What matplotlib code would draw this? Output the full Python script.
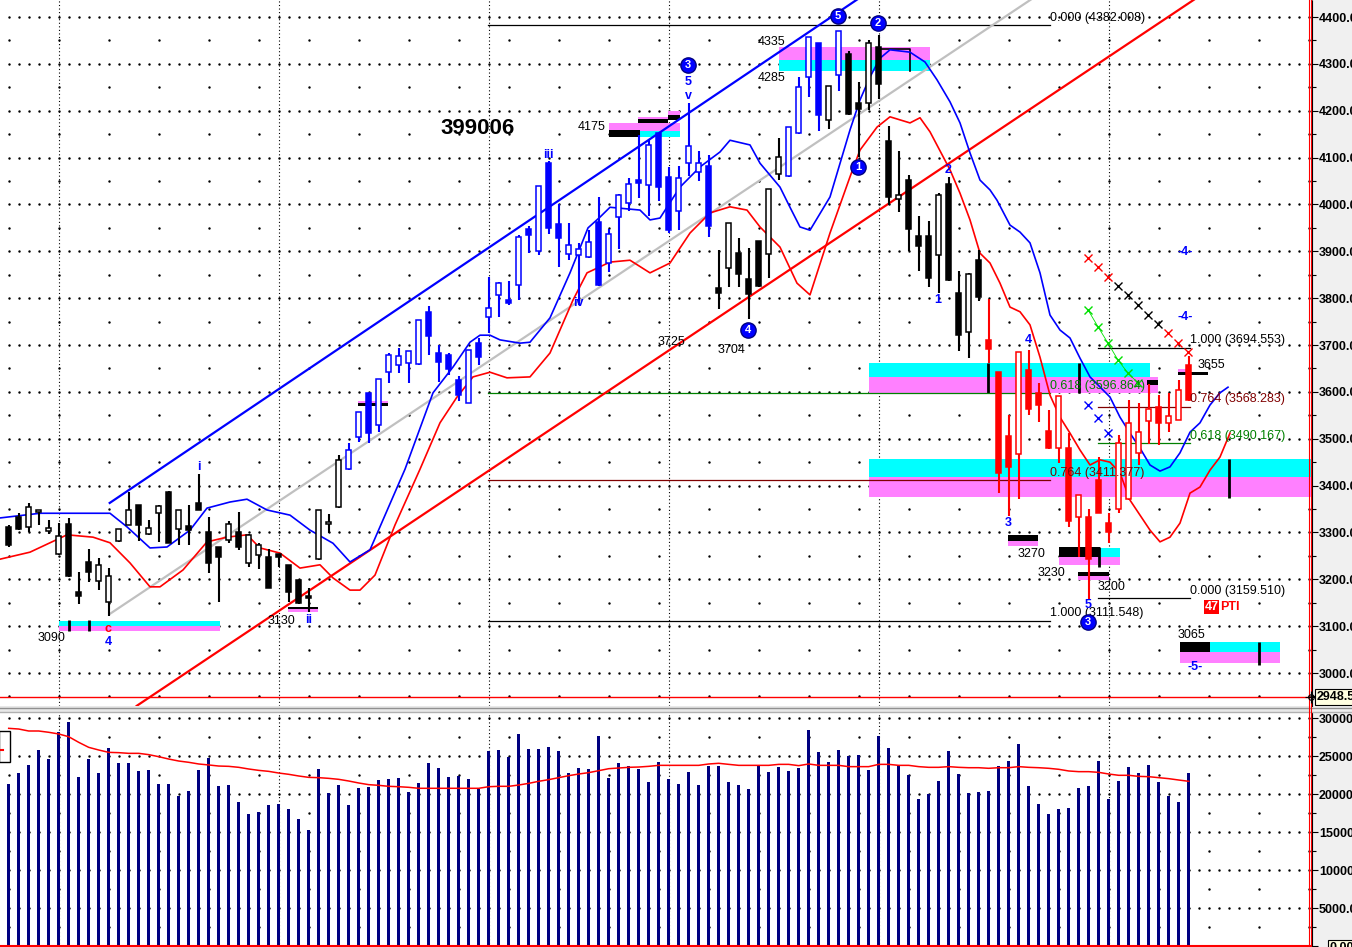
import matplotlib
matplotlib.use("Agg")
import matplotlib.pyplot as plt
from matplotlib.patches import Rectangle

plt.rcParams['font.family'] = ['Liberation Sans', 'DejaVu Sans']

# ---- daily bars (bar number = position in list) ----
opens = [3312, 3332, 3312, 3344, 3303, 3255, 3318, 3172, 3236, 3196,
         3152, 3282, 3317, 3359, 3297, 3341, 3387, 3307, 3314, 3362,
         3302, 3268, 3285, 3300, 3234, 3253, 3248, 3255, 3230, 3199,
         3163, 3243, 3318, 3355, 3435, 3504, 3598, 3529, 3643, 3657,
         3661, 3659, 3770, 3682, 3679, 3625, 3577, 3705, 3760, 3807,
         3797, 3828, 3947, 3901, 4089, 3958, 3894, 3892, 3887, 3963,
         3874, 3974, 4004, 4052, 4042, 4152, 4058, 3985, 4089, 4070,
         4082, 3821, 3864, 3897, 3840, 3921, 3894, 4066, 4061, 4152,
         4271, 4345, 4180, 4276, 4321, 4216, 4216, 4337, 4135, 4011,
         4052, 3933, 3933, 3892, 4044, 3810, 3727, 3881, 3711, 3642,
         3506, 3467, 3647, 3598, 3517, 3480, 3481, 3332, 3332, 3411,
         3321, 3350, 3371, 3470, 3537, 3567, 3534, 3541, 3657]
highs = [3316, 3342, 3362, 3349, 3327, 3320, 3330, 3215, 3264, 3246,
         3225, 3307, 3387, 3359, 3327, 3359, 3388, 3348, 3359, 3424,
         3334, 3268, 3324, 3344, 3297, 3277, 3264, 3255, 3230, 3199,
         3181, 3348, 3339, 3465, 3490, 3558, 3598, 3627, 3684, 3694,
         3688, 3753, 3783, 3700, 3684, 3634, 3689, 3714, 3846, 3835,
         3837, 3935, 3954, 4039, 4092, 4001, 3961, 3917, 3945, 4015,
         3947, 4022, 4056, 4148, 4138, 4153, 4079, 4082, 4216, 4113,
         4106, 3903, 3961, 3928, 3908, 3921, 4033, 4141, 4166, 4271,
         4358, 4345, 4253, 4371, 4328, 4262, 4351, 4362, 4167, 4115,
         4063, 3975, 3965, 4024, 4059, 3857, 3854, 3903, 3798, 3642,
         3551, 3686, 3689, 3618, 3561, 3591, 3512, 3380, 3351, 3462,
         3341, 3508, 3583, 3577, 3617, 3593, 3598, 3625, 3677]
lows = [3270, 3305, 3300, 3316, 3297, 3252, 3204, 3147, 3194, 3177,
        3122, 3280, 3316, 3282, 3295, 3280, 3277, 3273, 3273, 3348,
        3213, 3152, 3278, 3263, 3227, 3223, 3181, 3227, 3152, 3147,
        3131, 3241, 3298, 3352, 3433, 3494, 3490, 3515, 3618, 3641,
        3618, 3657, 3679, 3622, 3636, 3581, 3576, 3657, 3725, 3760,
        3785, 3796, 3896, 3892, 3937, 3867, 3881, 3785, 3885, 3826,
        3855, 3904, 3985, 4013, 3975, 4008, 3940, 3945, 4061, 4049,
        3931, 3776, 3823, 3823, 3755, 3823, 3842, 4052, 4059, 4150,
        4229, 4157, 4160, 4243, 4191, 4102, 4202, 4226, 3999, 3983,
        3901, 3857, 3823, 3810, 3837, 3688, 3672, 3793, 3662, 3385,
        3335, 3371, 3551, 3536, 3478, 3449, 3311, 3248, 3157, 3341,
        3278, 3341, 3369, 3444, 3489, 3487, 3515, 3540, 3581]
closes = [3273, 3307, 3355, 3348, 3309, 3292, 3207, 3164, 3215, 3230,
          3208, 3307, 3349, 3316, 3310, 3357, 3278, 3348, 3305, 3349,
          3234, 3248, 3318, 3268, 3295, 3273, 3182, 3248, 3172, 3149,
          3161, 3348, 3323, 3455, 3477, 3558, 3513, 3627, 3679, 3677,
          3688, 3753, 3719, 3664, 3648, 3593, 3689, 3675, 3778, 3833,
          3789, 3930, 3935, 4039, 3949, 3928, 3913, 3904, 3920, 3828,
          3938, 4020, 4043, 4046, 4127, 4037, 3946, 4056, 4125, 4089,
          3954, 3810, 3961, 3852, 3809, 3826, 4033, 4102, 4166, 4251,
          4358, 4191, 4253, 4371, 4193, 4203, 4344, 4258, 4015, 4020,
          3947, 3911, 3844, 4020, 3839, 3721, 3851, 3803, 3691, 3426,
          3440, 3686, 3563, 3572, 3480, 3591, 3325, 3380, 3243, 3342,
          3300, 3490, 3534, 3515, 3563, 3534, 3549, 3604, 3583]
# k = black, b = blue, r = red candles
candle_color = list("k" * 34 + "b" * 37 + "k" * 7 + "b" * 4 + "k" + "b"
                    + "k" * 14 + "r" * 21)

volume = [21316, 22763, 23816, 25790, 24605, 28158, 29474, 22237, 24605, 22763,
          26053, 24079, 24079, 23026, 23158, 21316, 21316, 19737, 20395, 23158,
          24737, 21053, 21184, 18947, 17368, 17632, 18553, 18684, 18026, 16711,
          15263, 23289, 20132, 21184, 18553, 20789, 20921, 21842, 21974, 22105,
          20263, 21447, 24079, 23421, 22237, 22368, 21974, 20658, 25658, 25790,
          24868, 27895, 25921, 25921, 26184, 25658, 22763, 23421, 23289, 27632,
          22105, 24079, 23684, 23289, 21579, 24211, 21974, 21316, 22895, 21184,
          23684, 23684, 21579, 21184, 20658, 23684, 22895, 23553, 23026, 23421,
          28421, 25526, 24211, 25790, 25000, 25132, 23158, 27632, 26053, 23684,
          22500, 19342, 20000, 21711, 25658, 22632, 20132, 20263, 20395, 23684,
          24342, 26579, 21053, 18684, 17368, 18026, 18158, 20789, 21053, 24342,
          19342, 21711, 23553, 22763, 23816, 21579, 19737, 18947, 22763]
volume_ma = [28640, 28550, 28290, 28290, 28120, 27900, 27540, 26800, 26140, 25790,
             25480, 25440, 25350, 25350, 25180, 24910, 24600, 24340, 24170, 23950,
             23820, 23680, 23640, 23510, 23290, 23110, 22980, 22760, 22590, 22370,
             22190, 22150, 22060, 21930, 21710, 21450, 21230, 21140, 21010, 20960,
             20880, 20750, 20750, 20750, 20750, 20750, 20750, 20750, 20960, 21010,
             21010, 21180, 21400, 21670, 21890, 22150, 22410, 22630, 22810, 23070,
             23330, 23420, 23510, 23550, 23640, 23770, 23770, 23770, 23770, 23770,
             23950, 24040, 23900, 23770, 23770, 23770, 23770, 23900, 23900, 23730,
             23950, 23770, 23770, 23770, 23600, 23600, 23600, 23900, 23900, 23770,
             23770, 23600, 23510, 23510, 23600, 23510, 23460, 23460, 23380, 23460,
             23460, 23600, 23510, 23460, 23380, 23250, 23030, 22940, 22940, 22850,
             22630, 22460, 22460, 22320, 22280, 22150, 22020, 21840, 21670]

# moving averages (shifted forward, so they run past the last bar)
blue_ma_bar = [-0.87, 3.13, 10.13, 11.83, 14.13, 15.83, 18.13, 19.83, 22.13, 23.83,
               25.83, 28.13, 30.13, 32.43, 34.13, 36.13, 39.63, 42.43, 44.43, 46.13,
               47.13, 48.13, 49.13, 51.13, 52.13, 54.13, 56.13, 57.93, 59.13, 60.13,
               63.13, 64.13, 65.13, 67.13, 69.13, 71.13, 72.13, 74.13, 75.13, 77.13,
               78.13, 79.13, 80.13, 82.13, 84.13, 85.13, 86.13, 87.13, 88.13, 90.13,
               91.63, 92.83, 94.13, 95.13, 96.13, 97.13, 98.13, 98.83, 100.13, 101.13,
               102.13, 103.13, 104.13, 105.13, 106.13, 107.13, 108.13, 110.13, 111.13, 112.13,
               113.13, 114.13, 115.13, 116.13, 117.13, 118.13, 119.13, 120.13, 121.13, 121.93]
blue_ma = [3331, 3341, 3341, 3312, 3267, 3269, 3305, 3352, 3365, 3371,
           3348, 3337, 3305, 3277, 3237, 3263, 3435, 3598, 3653, 3706,
           3721, 3721, 3711, 3704, 3706, 3758, 3854, 3950, 3973, 3994,
           3988, 3967, 3971, 4037, 4080, 4112, 4137, 4127, 4088, 4037,
           3994, 3952, 3945, 4016, 4159, 4223, 4272, 4312, 4330, 4325,
           4304, 4266, 4219, 4174, 4110, 4052, 4031, 4009, 3956, 3941,
           3918, 3854, 3764, 3732, 3715, 3672, 3632, 3589, 3546, 3512,
           3480, 3444, 3431, 3440, 3470, 3514, 3534, 3572, 3598, 3610]
red_ma_bar = [-0.87, 2.13, 4.13, 5.83, 8.43, 10.13, 12.13, 14.13, 15.13, 17.43,
              19.83, 21.83, 23.83, 25.13, 27.13, 29.13, 31.13, 32.43, 34.13, 35.13,
              36.63, 38.63, 41.13, 43.13, 44.83, 46.43, 48.13, 49.83, 52.13, 54.13,
              56.43, 57.83, 59.13, 60.13, 62.13, 64.13, 66.13, 68.13, 70.13, 72.13,
              73.83, 75.13, 77.13, 78.83, 80.13, 82.13, 84.13, 85.13, 86.83, 88.13,
              90.13, 91.13, 92.13, 94.13, 95.13, 96.13, 97.13, 98.13, 99.13, 100.13,
              101.13, 102.13, 103.13, 104.13, 105.13, 106.13, 107.13, 108.13, 109.13, 110.13,
              111.13, 112.13, 113.13, 114.13, 115.13, 116.13, 117.13, 118.13, 119.13, 120.13,
              121.13, 122.13]
red_ma = [3243, 3258, 3278, 3295, 3290, 3278, 3235, 3184, 3184, 3220,
          3280, 3290, 3295, 3267, 3256, 3224, 3231, 3203, 3177, 3177,
          3209, 3316, 3435, 3534, 3589, 3632, 3642, 3630, 3632, 3683,
          3796, 3854, 3867, 3877, 3881, 3854, 3875, 3939, 3982, 3995,
          3988, 3952, 3909, 3832, 3807, 3939, 4059, 4116, 4165, 4187,
          4174, 4185, 4155, 4074, 4024, 3967, 3896, 3875, 3832, 3781,
          3771, 3743, 3674, 3593, 3546, 3512, 3476, 3444, 3455, 3450,
          3427, 3369, 3337, 3305, 3280, 3290, 3320, 3384, 3397, 3433,
          3461, 3512]

# trend lines: (bar, price) end points
trend_blue = ([10.1, 85.1], [3363, 4441])
trend_gray = ([10.1, 102.2], [3126, 4437])
trend_red = ([12.8, 118.6], [2930, 4438])

# fibonacci levels
fib_left = [(4382.008, "0.000 (4382.008)", "#000000"),
            (3596.864, "0.618 (3596.864)", "#008000"),
            (3411.377, "0.764 (3411.377)", "#800000"),
            (3111.548, "1.000 (3111.548)", "#000000")]
fib_right = [(3694.553, "1.000 (3694.553)", "#000000"),
             (3568.283, "0.764 (3568.283)", "#800000"),
             (3490.167, "0.618 (3490.167)", "#008000"),
             (3159.510, "0.000 (3159.510)", "#000000")]

CY, MG, BK = "#00ffff", "#ff80ff", "#000000"
# target zones: bar from, bar to, price low, price high, colour
zones = [(5.03, 21.13, 3100.4, 3111.1, CY), (5.03, 21.13, 3089.7, 3100.4, MG),
         (27.93, 30.93, 3136.7, 3141.0, BK), (27.93, 30.93, 3130.3, 3136.7, MG),
         (34.93, 37.93, 3576.3, 3580.5, MG), (34.93, 37.93, 3569.9, 3576.3, BK),
         (60.03, 67.13, 4156.7, 4173.2, MG), (60.03, 63.13, 4144.6, 4158.9, BK),
         (63.13, 67.13, 4144.6, 4156.7, CY),
         (62.93, 65.93, 4181.7, 4186.6, MG), (62.93, 65.93, 4174.4, 4181.7, BK),
         (65.93, 67.13, 4190.9, 4199.4, MG), (65.93, 67.13, 4180.2, 4190.9, BK),
         (77.03, 92.13, 4308.2, 4336.0, MG), (77.03, 92.13, 4285.4, 4308.2, CY),
         (86.03, 114.13, 3631.8, 3661.6, CY), (86.03, 114.93, 3597.6, 3631.8, MG),
         (113.83, 114.93, 3614.7, 3625.4, BK),
         (86.03, 131.0, 3418.4, 3456.8, CY), (86.03, 131.0, 3375.7, 3418.4, MG),
         (99.93, 102.93, 3281.8, 3294.6, BK), (99.93, 102.93, 3271.1, 3281.8, MG),
         (105.03, 111.13, 3230.6, 3247.6, MG), (107.83, 111.13, 3247.6, 3266.8, CY),
         (105.03, 109.13, 3247.6, 3269.0, BK),
         (106.93, 110.03, 3207.1, 3215.6, BK), (106.93, 110.03, 3198.6, 3207.1, MG),
         (116.93, 119.93, 3636.0, 3642.4, BK), (116.93, 118.13, 3642.4, 3648.8, MG),
         (117.13, 120.13, 3044.9, 3066.3, BK), (120.13, 127.13, 3044.9, 3066.3, CY),
         (117.13, 127.13, 3021.4, 3044.9, MG)]
zone_ticks = [(6.03, 3089.7, 3113.2), (8.03, 3089.7, 3113.2),
              (97.93, 3597.6, 3661.6), (107.03, 3597.6, 3661.6),
              (122.03, 3373.6, 3456.8), (109.03, 3226.3, 3269.0),
              (125.03, 3017.2, 3066.3)]

price_labels = [("4335", 76.3, 4347), ("4285", 76.3, 4270), ("4175", 58.3, 4165),
                ("3725", 66.3, 3706), ("3704", 72.3, 3689), ("3090", 4.3, 3075),
                ("3130", 27.3, 3111), ("3270", 102.3, 3254), ("3230", 104.3, 3213),
                ("3200", 110.3, 3184), ("3655", 120.3, 3657), ("3065", 118.3, 3081)]
wave_circles = [("5", 82.93, 4402), ("2", 86.93, 4387), ("3", 67.93, 4298),
                ("1", 84.93, 4080), ("4", 73.93, 3732), ("3", 107.93, 3109)]
wave_labels = [("5", 67.93, 4261, "#0000ff"), ("v", 67.93, 4232, "#0000ff"),
               ("iii", 53.93, 4106, "#0000ff"), ("iv", 56.93, 3790, "#0000ff"),
               ("i", 19.03, 3440, "#0000ff"), ("ii", 30.03, 3113, "#0000ff"),
               ("4", 9.93, 3066, "#0000ff"), ("c", 9.93, 3094, "#ff0000"),
               ("1", 92.93, 3796, "#0000ff"), ("2", 93.93, 4074, "#0000ff"),
               ("3", 99.93, 3320, "#0000ff"), ("4", 101.93, 3711, "#0000ff"),
               ("5", 107.93, 3145, "#0000ff"), ("-4-", 117.63, 3899, "#0000ff"),
               ("-4-", 117.63, 3760, "#0000ff"), ("-5-", 118.63, 3013, "#0000ff")]

cross_bar = [107.93, 108.93, 109.93, 110.93, 111.93, 112.93, 113.93, 114.93, 115.93, 116.93, 117.93]
cross_price = [3886, 3866, 3846, 3826, 3806, 3785, 3765, 3745, 3725, 3705, 3685]
cross_color = list("rrrkkkkkrrr")
green_cross_bar = [107.93, 108.93, 109.93, 110.93, 111.93, 112.93]
green_cross_price = [3775, 3739, 3704, 3668, 3640, 3619]
blue_cross_bar = [107.93, 108.93, 109.93]
blue_cross_price = [3572, 3544, 3512]

month_lines = [5, 27, 48, 66, 87, 110]
last_low_line = 2948.5

W, H = 1352, 947
COL = {"k": "#000000", "b": "#0000ff", "r": "#ff0000"}

fig = plt.figure(figsize=(W / 100, H / 100), dpi=100, facecolor="#f0f0f0")
xlim = (-0.87, -0.87 + 131.2)
ax = fig.add_axes([0, 241 / H, 1312 / W, 706 / H])
axv = fig.add_axes([0, 0, 1312 / W, 234 / H])

for a in (ax, axv):
    a.set_facecolor("white")
    a.set_xlim(*xlim)
    a.set_xticks([])
    for s in ("top", "left", "bottom"):
        a.spines[s].set_visible(False)
    a.spines["right"].set_linestyle((0, (1, 1)))
    a.spines["right"].set_linewidth(0.8)
    a.yaxis.tick_right()
    a.tick_params(axis="y", which="major", direction="out", length=4, width=0.8,
                  pad=1, labelsize=9)
    a.tick_params(axis="y", which="minor", direction="out", length=3, width=0.8)

ax.set_ylim(2929.7, 4436.3)
ax.set_yticks(range(3000, 4401, 100))
ax.set_yticklabels([f"{v:.1f}" for v in range(3000, 4401, 100)], fontweight="bold")
ax.set_yticks(range(2950, 4436, 50), minor=True)

axv.set_ylim(-131, 30658)
axv.set_yticks(range(0, 30001, 5000))
axv.set_yticklabels([""] + [f"{v:.1f}" for v in range(5000, 30001, 5000)],
                    fontweight="bold")
axv.set_yticks(range(0, 30660, 2500), minor=True)

# dotted grid
dot_bars = list(range(0, 131))
for lvl in range(3000, 4401, 100):
    ax.plot(dot_bars, [lvl] * len(dot_bars), ls="none", marker="s", ms=0.7,
            color="black", zorder=0.5)
for lvl in range(2950, 4401, 100):
    ax.plot(dot_bars[::5], [lvl] * len(dot_bars[::5]), ls="none", marker="s", ms=0.7,
            color="black", zorder=0.5)
for lvl in range(5000, 30001, 5000):
    axv.plot(dot_bars, [lvl] * len(dot_bars), ls="none", marker="s", ms=0.7,
             color="black", zorder=0.5)
for lvl in range(2500, 30001, 5000):
    axv.plot(dot_bars[::5], [lvl] * len(dot_bars[::5]), ls="none", marker="s", ms=0.7,
             color="black", zorder=0.5)
for m in month_lines:
    for a in (ax, axv):
        a.axvline(m, color="black", lw=0.8, ls=(0, (1, 2.2)), zorder=0.6)

# zones
for b0, b1, p0, p1, c in zones:
    ax.add_patch(Rectangle((b0, p0), b1 - b0, p1 - p0, facecolor=c, edgecolor="none",
                           zorder=1))
for b, p0, p1 in zone_ticks:
    ax.plot([b, b], [p0, p1], color="black", lw=2, zorder=1.2, solid_capstyle="butt")
ax.plot([87.13, 90.13, 90.13], [4331.7, 4331.7, 4285.4], color="black", lw=1.2, zorder=1.2)

# fibonacci lines
for lvl, txt, c in fib_left:
    ax.plot([47.93, 104.13], [lvl, lvl], color=c, lw=0.9, zorder=1.5)
    ax.text(104.13, lvl + 3, txt, color=c, fontsize=9, ha="left", va="bottom", zorder=6)
for lvl, txt, c in fib_right:
    ax.plot([108.93, 118.13], [lvl, lvl], color=c, lw=0.9, zorder=1.5)
    ax.text(118.13, lvl + 3, txt, color=c, fontsize=9, ha="left", va="bottom", zorder=6)

# trend lines
ax.plot(*trend_gray, color="#c0c0c0", lw=1.6, zorder=1.8)
ax.plot(*trend_blue, color="#0000ff", lw=1.6, zorder=1.8)
ax.plot(*trend_red, color="#ff0000", lw=1.6, zorder=1.8)

# moving averages
ax.plot(blue_ma_bar, blue_ma, color="#0000ff", lw=1.2, zorder=2.5)
ax.plot(red_ma_bar, red_ma, color="#ff0000", lw=1.2, zorder=2.5)

# candles
bars = list(range(len(opens)))
cols = [COL[c] for c in candle_color]
ax.vlines(bars, lows, highs, colors=cols, lw=1.5, zorder=3)
body_lo = [min(o, c) for o, c in zip(opens, closes)]
body_h = [max(abs(c - o), 2.5) for o, c in zip(opens, closes)]
faces = [col if c < o else "white" for o, c, col in zip(opens, closes, cols)]
ax.bar(bars, body_h, bottom=body_lo, width=0.5, color=faces, edgecolor=cols,
       linewidth=1.1, zorder=3.2)

# crosses
for b, p, c in zip(cross_bar, cross_price, cross_color):
    ax.plot(b, p, marker="x", ms=5.5, mew=1, color=COL[c], zorder=4)
ax.plot(green_cross_bar, green_cross_price, ls="none", marker="x", ms=5.5, mew=1,
        color="#00e000", zorder=4)
ax.plot(green_cross_bar, green_cross_price, color="#00e000", lw=0.6, zorder=3.9)
ax.plot(blue_cross_bar, blue_cross_price, ls="none", marker="x", ms=5.5, mew=1,
        color="#0000ff", zorder=4)

# last low line
ax.axhline(last_low_line, color="#ff0000", lw=1, zorder=2)

# texts
ax.text(46.9, 4163, "399006", fontsize=16, fontweight="bold", ha="center",
        va="center", zorder=6)
for txt, b, p in price_labels:
    ax.text(b, p, txt, fontsize=9, ha="center", va="center", zorder=6)
for txt, b, p in wave_circles:
    ax.plot(b, p, marker="o", ms=11, color="#0000ff", mec="#000080", zorder=6)
    ax.text(b, p, txt, fontsize=8, fontweight="bold", color="white", ha="center",
            va="center", zorder=7)
for txt, b, p, c in wave_labels:
    ax.text(b, p, txt, fontsize=9, fontweight="bold", color=c, ha="center",
            va="center", zorder=6)
ax.text(120.3, 3141, "47", fontsize=9, fontweight="bold", color="white", ha="center",
        va="center", zorder=7,
        bbox=dict(boxstyle="square,pad=0.05", facecolor="#ff0000", edgecolor="none"))
ax.text(121.1, 3141, "PTI", fontsize=9, fontweight="bold", color="#ff0000", ha="left",
        va="center", zorder=7)

# volume
axv.bar(bars, volume, width=0.27, color="#000080", zorder=3)
axv.plot(bars, volume_ma, color="#ff0000", lw=1.1, zorder=4)
axv.axhline(0, color="#ff0000", lw=1.5, zorder=5)
axv.add_patch(Rectangle((-0.97, 24210), 1.1, 4080, facecolor="white",
                        edgecolor="black", lw=1, zorder=6))
axv.plot([-0.87, -0.6], [25790, 25790], color="#ff0000", lw=1.5, zorder=7)

# frame decorations in pixel space
ov = fig.add_axes([0, 0, 1, 1], zorder=10)
ov.set_xlim(0, W)
ov.set_ylim(H, 0)
ov.axis("off")
ov.patch.set_alpha(0)
ov.add_patch(Rectangle((0, 706), 1312, 7, facecolor="#e8e8e8", edgecolor="none"))
ov.plot([0, 1352], [707.5, 707.5], color="#909090", lw=1)
ov.plot([0, 1352], [711.5, 711.5], color="#b0b0b0", lw=1)
ov.plot([1309, 1309], [0, H], color="#ff0000", lw=0.8)
ov.plot([1311, 1311], [0, H], color="#ff0000", lw=0.8)
ov.plot(1311, 697, marker="o", ms=4, mfc="none", mec="black", mew=0.8)
ov.plot(1311, 697, marker="+", ms=9, color="black", mew=0.8)
ov.text(1317, 697, "2948.5", fontsize=9, fontweight="bold", ha="left", va="center",
        bbox=dict(boxstyle="square,pad=0.15", facecolor="#ffffe1", edgecolor="black", lw=0.8))
ov.text(1330, 948, "0.00", fontsize=9, fontweight="bold", ha="left", va="center",
        bbox=dict(boxstyle="square,pad=0.15", facecolor="#ffffe1", edgecolor="black", lw=0.8))

fig.savefig("out.png", dpi=100, facecolor=fig.get_facecolor())
